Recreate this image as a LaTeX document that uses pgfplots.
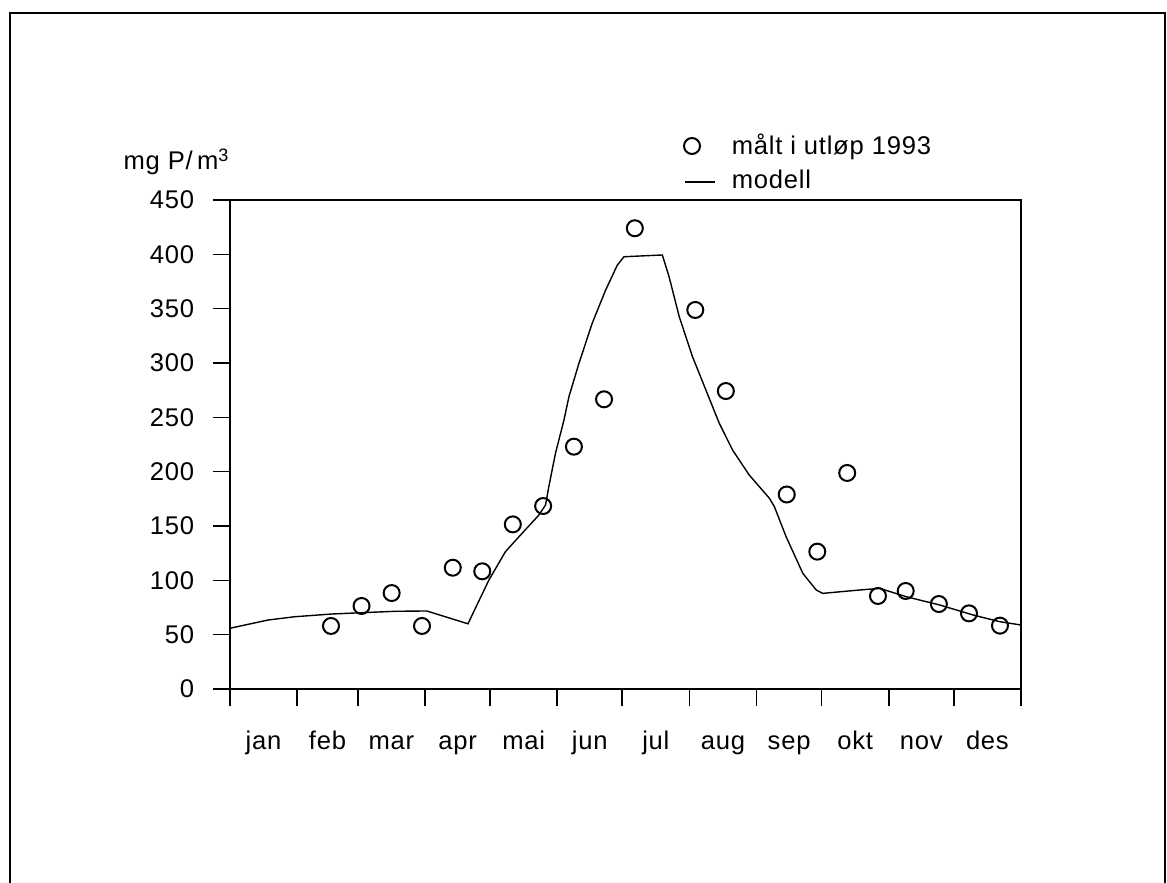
\documentclass[border=0pt]{standalone}
\usepackage{fontspec}
\setmainfont[LetterSpace=3]{Liberation Sans}
\usepackage{pgfplots}
\pgfplotsset{compat=1.18}

% measured points (day of year, mg P/m3)
\newcommand{\maalt}{
(46.6,58) (60.7,76.4) (74.6,88.3) (88.6,58) (102.8,111.6) (116.4,108.3)
(130.5,151.5) (144.5,168.4) (158.7,223) (172.6,266.6) (186.8,424)
(214.7,348.8) (228.8,274.2) (256.9,179) (271.0,126.4) (284.8,198.8)
(299.0,85.6) (311.8,90.2) (327.1,78.2) (341.0,69.6) (355.3,58.3)
}
% model curve
\newcommand{\modell}{
(0,55.9) (17.6,63.5) (29.9,66.5) (46.9,69) (60.7,70.2) (76.2,71.5)
(90.8,71.8) (109.8,60) (119.4,100) (127.1,126.4) (134.8,143.3)
(142.5,160) (145.6,169.3) (147.1,186) (150.2,217) (154.1,247.5)
(156.4,269) (161,299.6) (167.1,336.4) (173.3,367) (178.7,390)
(181.8,397.8) (199.5,399.4) (202.6,379.4) (207.3,342.6) (213.4,305.9)
(219.6,275.1) (225.8,244.4) (231.9,219.9) (239.6,196.9) (248.9,175.5)
(251.2,167.8) (256.6,140.2) (264.3,106.5) (270.5,91.1) (273.5,88)
(290.5,91.1) (299.8,92.6) (312.1,84.9) (327.5,77.3) (342.9,68.1)
(355.3,61.9) (365,58.9)
}

\begin{document}
\fontsize{12.8}{15}\selectfont
\begin{tikzpicture}
\useasboundingbox (0,0) rectangle (583.5pt,441.5pt);
\draw[line width=1pt] (5pt,0) -- (5pt,435pt) -- (582.5pt,435pt) -- (582.5pt,0);
\begin{axis}[
  at={(115pt,97pt)}, anchor=south west,
  scale only axis, width=395.5pt, height=244.5pt,
  xmin=0, xmax=365, ymin=0, ymax=450,
  axis line style={line width=1pt},
  tick style={line width=0.8pt, black},
  tick align=outside,
  xtick pos=bottom, ytick pos=left,
  ytick={0,50,...,450},
  major tick length=8.5pt,
  xtick={15.5,45,74.5,105,135.5,166,196.5,227.5,258,288.5,319,349.5},
  xticklabels={jan,feb,mar,apr,mai,jun,jul,aug,sep,okt,nov,des},
  x tick style={draw=none},
  minor xtick={0,31,59,90,120,151,181,212,243,273,304,334,365},
  minor x tick style={draw=black, line width=0.8pt},
  minor tick length=8.5pt,
  xticklabel style={anchor=base, yshift=-22pt},
  yticklabel style={xshift=-5pt},
  /pgf/number format/assume math mode=true,
  ylabel={mg P/\,m\raisebox{0.55ex}{\fontsize{9}{10}\selectfont 3}},
  every axis y label/.style={at={(rel axis cs:0,1)}, anchor=center, xshift=-27pt, yshift=19pt},
  legend style={at={(rel axis cs:0.5722,1.1317)}, anchor=north west, draw=none, fill=none,
    inner sep=0pt, row sep=5pt, column sep=8pt,
    nodes={inner sep=0pt, text height=9pt, text depth=3pt}},
  legend cell align=left,
]
\addplot[only marks, mark=o, mark size=4pt, mark options={line width=1pt},
  legend image code/.code={\draw[line width=1pt] (3.5pt,1pt) circle (4pt);}]
  coordinates {\maalt};
\addlegendentry{målt i utløp 1993}
\addplot[no marks, line width=0.7pt,
  legend image code/.code={\draw[line width=0.8pt] (0pt,0pt) -- (15pt,0pt);}]
  coordinates {\modell};
\addlegendentry{modell}
\end{axis}
\end{tikzpicture}
\end{document}
